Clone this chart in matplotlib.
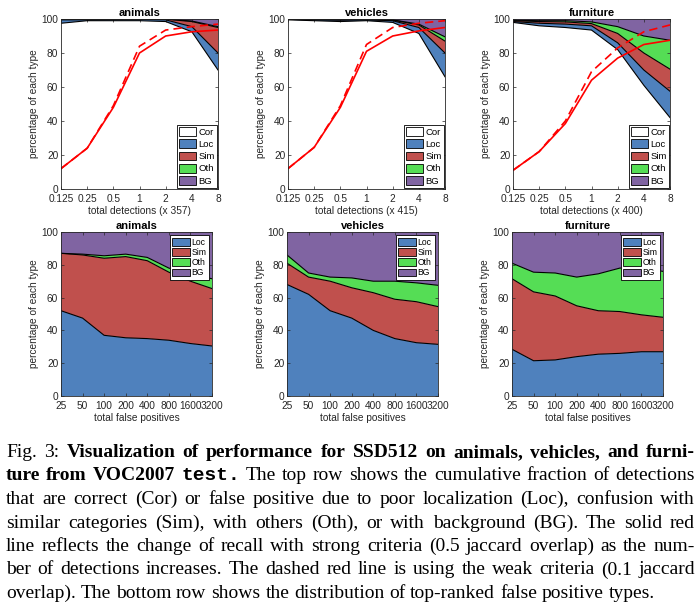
import matplotlib
matplotlib.use("Agg")
import matplotlib.pyplot as plt
from matplotlib.patches import Patch

# ----------------------------------------------------------------------
# data (percent, upper edge of each stacked band)
# ----------------------------------------------------------------------
det_x = [0.125, 0.25, 0.5, 1, 2, 4, 8]
det_ticks = ["0.125", "0.25", "0.5", "1", "2", "4", "8"]

animals_cor = [97.5, 99, 99, 99, 98.5, 92.5, 70]
animals_loc = [99.5, 99.5, 99.7, 99.8, 99.5, 95.5, 80]
animals_sim = [99.8, 99.8, 99.9, 99.9, 99.9, 98.5, 95]
animals_oth = [99.9, 99.9, 99.9, 99.9, 100, 98.8, 95.5]
animals_strong = [12, 24, 48, 80, 90, 92.5, 93.5]
animals_weak = [12, 24, 49, 84, 93.5, 95.5, 97]

vehicles_cor = [99.5, 99, 98.5, 99, 98, 91.5, 66]
vehicles_loc = [99.8, 99.5, 99.3, 99.5, 99, 95, 80]
vehicles_sim = [99.9, 99.7, 99.6, 99.7, 99.4, 96.5, 87]
vehicles_oth = [100, 99.8, 99.7, 99.8, 99.5, 97, 89.5]
vehicles_strong = [12, 24.5, 48, 81, 90, 93, 95]
vehicles_weak = [12, 24.5, 49, 85, 95, 97.5, 99]

furniture_cor = [98, 96, 95, 93.5, 82, 61, 42]
furniture_loc = [98.5, 97.5, 97, 96, 86, 70, 57.5]
furniture_sim = [99, 98.5, 98.3, 97.3, 91.5, 80, 70.5]
furniture_oth = [99.3, 99, 99, 98.3, 95.5, 90, 87.5]
furniture_strong = [11, 22, 38.5, 64, 77, 85, 87.5]
furniture_weak = [11, 22, 40, 69, 83, 92.5, 96.5]

totals = {"animals": 357, "vehicles": 415, "furniture": 400}

fp_ticks = ["25", "50", "100", "200", "400", "800", "1600", "3200"]

fp_animals_loc = [52, 47.5, 37, 35.5, 35, 34, 32, 30.5]
fp_animals_sim = [87, 86, 84, 85, 82.5, 75.5, 70, 65.5]
fp_animals_oth = [87, 86.5, 85.5, 86.5, 84.5, 78, 74, 71.5]

fp_vehicles_loc = [68, 62, 52, 47.5, 40, 35, 32.5, 31.5]
fp_vehicles_sim = [81, 72.5, 70, 66, 63, 59, 57.5, 54.5]
fp_vehicles_oth = [86, 75, 72.5, 72, 70, 70, 69, 67.5]

fp_furniture_loc = [28.5, 21.5, 22, 24, 25.5, 26, 27, 27]
fp_furniture_sim = [71.5, 63.5, 61, 55, 52, 51.5, 49.5, 48]
fp_furniture_oth = [81, 75.5, 75, 72.5, 74.5, 78, 78, 76]

# ----------------------------------------------------------------------
C_LOC, C_SIM, C_OTH, C_BG = "#4f81bd", "#c0504d", "#55dd55", "#8064a2"
AX_COL = "#262626"
SANS = "Liberation Sans"
TICK_FS = 7.3

plt.rcParams["font.family"] = SANS
plt.rcParams["axes.linewidth"] = 0.6

fig = plt.figure(figsize=(7, 6.14), dpi=100)
W, H = 700, 614


def px_axes(left, top, width, height):
    return fig.add_axes([left / W, 1 - (top + height) / H, width / W, height / H])


def style_axes(ax, title, xlabel):
    ax.set_ylim(0, 100)
    ax.set_yticks([0, 20, 40, 60, 80, 100])
    ax.tick_params(direction="in", top=True, right=True, length=2.5, width=0.5,
                   labelsize=TICK_FS, colors=AX_COL, pad=2)
    ax.tick_params(axis="x", pad=3.5)
    for s in ax.spines.values():
        s.set_color(AX_COL)
    ax.set_title(title, fontsize=8, fontweight="bold", pad=2.5, color="black")
    ax.set_xlabel(xlabel, fontsize=TICK_FS, color=AX_COL, labelpad=1.5)
    ax.set_ylabel("percentage of each type", fontsize=TICK_FS, color=AX_COL, labelpad=2)


def draw_top(ax, name, cor, loc, sim, oth, strong, weak):
    for lo, hi, c in [(cor, loc, C_LOC), (loc, sim, C_SIM), (sim, oth, C_OTH)]:
        ax.fill_between(det_x, lo, hi, facecolor=c, edgecolor="none")
    ax.fill_between(det_x, oth, 100, facecolor=C_BG, edgecolor="none")
    for edge in (cor, loc, sim, oth):
        ax.plot(det_x, edge, color="black", lw=0.8)
    ax.plot(det_x, strong, color="red", lw=1.2)
    ax.plot(det_x, weak, color="red", lw=1.2, ls=(0, (5, 3)))
    ax.set_xscale("log", base=2)
    ax.set_xlim(0.125, 8)
    ax.set_xticks(det_x)
    ax.set_xticklabels(det_ticks)
    ax.minorticks_off()
    style_axes(ax, name, f"total detections (x {totals[name]})")
    handles = [Patch(facecolor=c, edgecolor="black", lw=0.6)
               for c in ("white", C_LOC, C_SIM, C_OTH, C_BG)]
    leg = ax.legend(handles, ["Cor", "Loc", "Sim", "Oth", "BG"], loc="lower right",
                    fontsize=6.8, fancybox=False, framealpha=1, edgecolor="black",
                    borderaxespad=0.1, handlelength=1.8, handleheight=1.05,
                    labelspacing=0.28, handletextpad=0.2, borderpad=0.25)
    leg.get_frame().set_linewidth(0.6)


def draw_bottom(ax, name, loc, sim, oth):
    xs = list(range(len(fp_ticks)))
    ax.fill_between(xs, 0, loc, facecolor=C_LOC, edgecolor="none")
    ax.fill_between(xs, loc, sim, facecolor=C_SIM, edgecolor="none")
    ax.fill_between(xs, sim, oth, facecolor=C_OTH, edgecolor="none")
    ax.fill_between(xs, oth, 100, facecolor=C_BG, edgecolor="none")
    for edge in (loc, sim, oth):
        ax.plot(xs, edge, color="black", lw=0.8)
    ax.set_xlim(0, len(fp_ticks) - 1)
    ax.set_xticks(xs)
    ax.set_xticklabels(fp_ticks)
    style_axes(ax, name, "total false positives")
    handles = [Patch(facecolor=c, edgecolor="black", lw=0.6)
               for c in (C_LOC, C_SIM, C_OTH, C_BG)]
    leg = ax.legend(handles, ["Loc", "Sim", "Oth", "BG"], loc="upper right",
                    fontsize=6.2, fancybox=False, framealpha=1, edgecolor="black",
                    borderaxespad=0.4, handlelength=2.0, handleheight=1.0,
                    labelspacing=0.15, handletextpad=0.2, borderpad=0.25)
    leg.get_frame().set_linewidth(0.6)


draw_top(px_axes(61, 19, 157, 170), "animals", animals_cor, animals_loc,
         animals_sim, animals_oth, animals_strong, animals_weak)
draw_top(px_axes(288, 19, 157, 170), "vehicles", vehicles_cor, vehicles_loc,
         vehicles_sim, vehicles_oth, vehicles_strong, vehicles_weak)
draw_top(px_axes(513, 19, 157, 170), "furniture", furniture_cor, furniture_loc,
         furniture_sim, furniture_oth, furniture_strong, furniture_weak)

draw_bottom(px_axes(61, 232, 151, 164), "animals",
            fp_animals_loc, fp_animals_sim, fp_animals_oth)
draw_bottom(px_axes(287, 232, 151, 164), "vehicles",
            fp_vehicles_loc, fp_vehicles_sim, fp_vehicles_oth)
draw_bottom(px_axes(512, 232, 151, 164), "furniture",
            fp_furniture_loc, fp_furniture_sim, fp_furniture_oth)

# ----------------------------------------------------------------------
# caption, justified word by word like the paper
# ----------------------------------------------------------------------
CAP_FS = 14
SERIF = "Liberation Serif"
cap_styles = {
    "n": dict(family=SERIF),
    "b": dict(family=SERIF, weight="bold"),
    "m": dict(family="Liberation Mono", weight="bold"),
}
caption = [
    [("n", "Fig. 3:"), ("b", "Visualization of performance for SSD512 on animals, vehicles, and furni-")],
    [("b", "ture from VOC2007"), ("m", "test."),
     ("n", "The top row shows the cumulative fraction of detections")],
    [("n", "that are correct (Cor) or false positive due to poor localization (Loc), confusion with")],
    [("n", "similar categories (Sim), with others (Oth), or with background (BG). The solid red")],
    [("n", "line reflects the change of recall with strong criteria (0.5 jaccard overlap) as the num-")],
    [("n", "ber of detections increases. The dashed red line is using the weak criteria (0.1 jaccard")],
    [("n", "overlap). The bottom row shows the distribution of top-ranked false positive types.")],
]

renderer = fig.canvas.get_renderer()
x0, x1 = 6 / W, 695 / W
space = CAP_FS * 0.25 / 72 * 100 / W
for i, segs in enumerate(caption):
    y = 1 - (457 + 23.5 * i) / H
    words = [(st, w) for st, s in segs for w in s.split()]
    texts = [fig.text(0, y, w, fontsize=CAP_FS, va="baseline", color="black", **cap_styles[st])
             for st, w in words]
    widths = [t.get_window_extent(renderer).width / W for t in texts]
    last = i == len(caption) - 1
    gap = space if last else (x1 - x0 - sum(widths)) / (len(words) - 1)
    x = x0
    for t, w in zip(texts, widths):
        t.set_x(x)
        x += w + gap

fig.savefig("out.png", dpi=100)
